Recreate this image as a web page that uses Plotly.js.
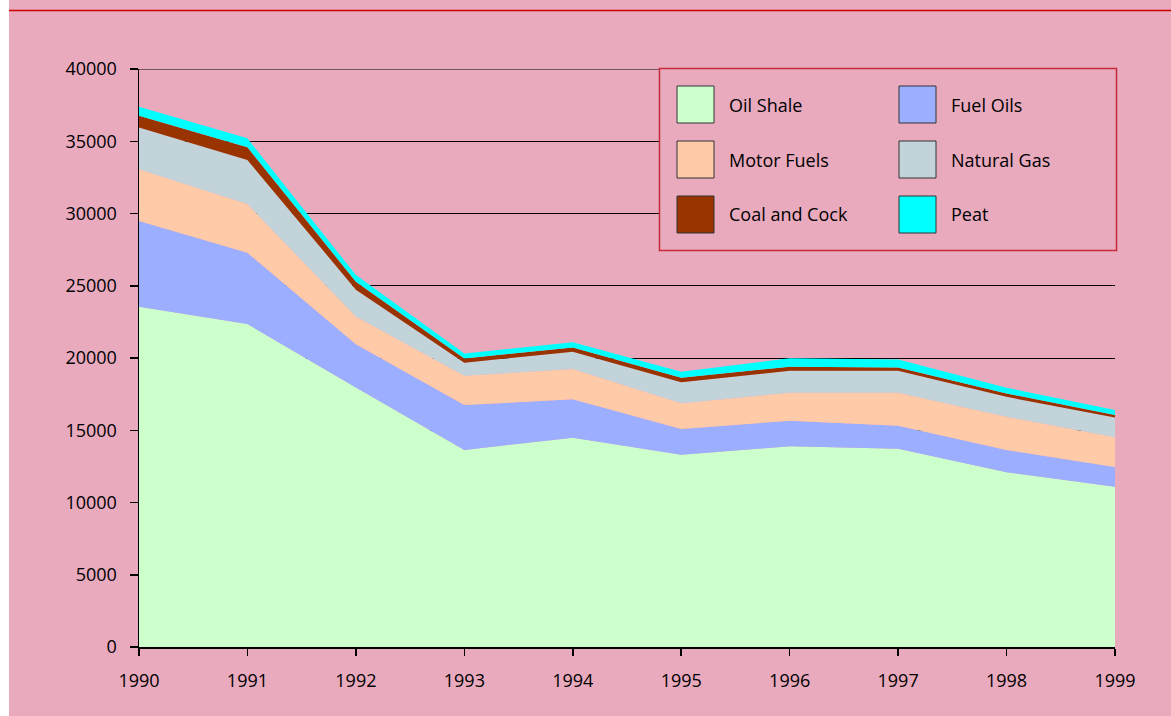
<!DOCTYPE html>
<html>
<head>
<meta charset="utf-8">
<script src="https://cdn.plot.ly/plotly-3.0.1.min.js"></script>
<style>html,body{margin:0;padding:0;background:#fff;}#chart{width:1171px;height:716px;}</style>
</head>
<body>
<div id="chart"></div>
<script>
const years = [1990, 1991, 1992, 1993, 1994, 1995, 1996, 1997, 1998, 1999];
const seriesNames = ["Oil Shale", "Fuel Oils", "Motor Fuels", "Natural Gas", "Coal and Cock", "Peat"];
const oilShale   = [23550, 22350, 17950, 13630, 14480, 13310, 13890, 13720, 12090, 11090];
const fuelOils   = [5930, 4930, 3000, 3110, 2660, 1780, 1770, 1590, 1540, 1360];
const motorFuels = [3580, 3370, 1920, 2030, 2100, 1780, 1940, 2280, 2300, 2060];
const naturalGas = [2900, 3050, 1860, 900, 1200, 1450, 1520, 1520, 1380, 1380];
const coalCock   = [800, 880, 550, 300, 280, 320, 280, 240, 240, 160];
const peat       = [620, 620, 460, 350, 370, 410, 580, 550, 390, 350];
const colors = ["#ccffcc", "#9caeff", "#ffcaa8", "#c2d3da", "#993300", "#00ffff"];
const yTicks = [0, 5000, 10000, 15000, 20000, 25000, 30000, 35000, 40000];

const seriesValues = [oilShale, fuelOils, motorFuels, naturalGas, coalCock, peat];
const traces = seriesValues.map((vals, i) => ({
  type: "scatter",
  x: years,
  y: vals,
  name: seriesNames[i],
  stackgroup: "one",
  mode: "lines",
  line: {width: 0, color: colors[i]},
  fillcolor: colors[i],
  hoverinfo: "x+y+name"
}));

// pixel helpers for layout decoration (paper coords)
const L = 139, R = 1115, T = 69, B = 647;
const px = v => (v - L) / (R - L);
const py = v => (B - v) / (B - T);

const shapes = [
  {type: "rect", xref: "paper", yref: "paper", x0: px(0), x1: px(9), y0: py(730), y1: py(-10), fillcolor: "#ffffff", line: {width: 0}, layer: "below"},
  {type: "line", xref: "paper", yref: "paper", x0: px(9), x1: px(1175), y0: py(10.5), y1: py(10.5), line: {color: "#cc0000", width: 1.5}},
  {type: "line", xref: "paper", yref: "y", x0: 0, x1: 1, y0: yTicks[yTicks.length - 1], y1: yTicks[yTicks.length - 1], line: {color: "#000", width: 1}, layer: "below"},
  {type: "rect", xref: "paper", yref: "paper", x0: px(659.5), x1: px(1116.5), y0: py(250.5), y1: py(68.5), fillcolor: "#e9aabe", line: {color: "#c8283c", width: 1.5}, layer: "above"}
];
const annotations = [];
const cols = [[677, 727], [899, 949]];
const rows = [[86, 123, 105], [141, 178, 160], [196, 233, 214]];
const order = [[0, 0], [0, 1], [1, 0], [1, 1], [2, 0], [2, 1]];
order.forEach((rc, i) => {
  const r = rows[rc[0]], c = cols[rc[1]];
  shapes.push({type: "rect", xref: "paper", yref: "paper", x0: px(c[0]), x1: px(c[0] + 37), y0: py(r[1]), y1: py(r[0]), fillcolor: colors[i], line: {color: "#333333", width: 1}, layer: "above"});
  annotations.push({xref: "paper", yref: "paper", x: px(c[1]), y: py(r[2]), xanchor: "left", yanchor: "middle", text: seriesNames[i], showarrow: false, font: {family: "Open Sans", size: 18, color: "#000000"}});
});

const layout = {
  width: 1171, height: 716,
  margin: {l: L, r: 1171 - R, t: T, b: 716 - B, pad: 0},
  paper_bgcolor: "#e9aabe",
  plot_bgcolor: "rgba(0,0,0,0)",
  showlegend: false,
  font: {family: "Open Sans", size: 18, color: "#000000"},
  xaxis: {
    range: [1990, 1999], tickvals: years, ticktext: years.map(String),
    showgrid: false, zeroline: false, showline: true, linecolor: "#000", linewidth: 1.5,
    ticks: "outside", ticklen: 7, tickcolor: "#000", tickwidth: 1.5, ticklabelstandoff: 10
  },
  yaxis: {
    range: [0, 40000], tickvals: yTicks, ticktext: yTicks.map(String),
    showgrid: true, gridcolor: "#000", gridwidth: 1, zeroline: false,
    showline: true, linecolor: "#000", linewidth: 1.5,
    ticks: "outside", ticklen: 8, tickcolor: "#000", tickwidth: 1.5, ticklabelstandoff: 9
  },
  shapes: shapes,
  annotations: annotations
};

Plotly.newPlot("chart", traces, layout, {displayModeBar: false, staticPlot: true});
</script>
</body>
</html>
